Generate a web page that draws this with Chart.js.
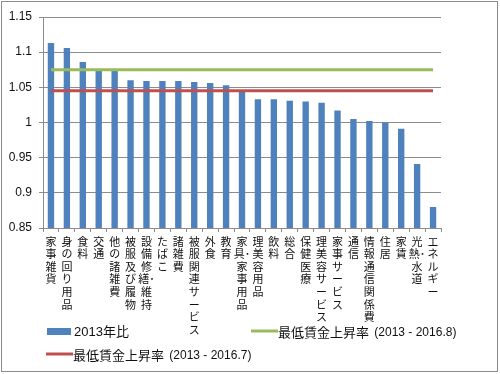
<!DOCTYPE html>
<html>
<head>
<meta charset="utf-8">
<script src="https://cdn.jsdelivr.net/npm/chart.js@4/dist/chart.umd.min.js"></script>
<style>
  html, body { margin: 0; padding: 0; background: #fff; }
  #wrap { width: 500px; height: 374px; position: relative; }
</style>
</head>
<body>
<div id="wrap"><canvas id="c" width="500" height="374"></canvas></div>
<script>
// ---- data ----
const categories = ['家事雑貨', '身の回り用品', '食料', '交通', '他の諸雑費', '被服及び履物', '設備修繕･維持', 'たばこ', '諸雑費', '被服関連サービス', '外食', '教育', '家具･家事用品', '理美容用品', '飲料', '総合', '保健医療', '理美容サービス', '家事サービス', '通信', '情報通信関係費', '住居', '家賃', '光熱･水道', 'エネルギー'];
const ratio2013 = [1.113, 1.106, 1.086, 1.074, 1.074, 1.060, 1.059, 1.059, 1.059, 1.0575, 1.056, 1.053, 1.044, 1.033, 1.033, 1.031, 1.030, 1.028, 1.017, 1.005, 1.002, 1.000, 0.991, 0.941, 0.880];
const minWageRise_2016_8 = 1.075;
const minWageRise_2016_7 = 1.045;
const seriesLabels = ['2013年比', '最低賃金上昇率 (2013 - 2016.8)', '最低賃金上昇率 (2013 - 2016.7)'];
const yTickLabels = ['0.85', '0.9', '0.95', '1', '1.05', '1.1', '1.15'];

// vertical (stacked) label lines: one character per line, half-width dot stays with previous char
function stackChars(s) {
  const out = [];
  for (const ch of s) {
    if (ch === '･' && out.length) out[out.length - 1] += ch;
    else out.push(ch);
  }
  return out;
}

const first = categories[0], last = categories[categories.length - 1];

const borderPlugin = {
  id: 'frame',
  beforeDraw(chart) {
    const ctx = chart.ctx;
    ctx.save();
    ctx.fillStyle = '#fff';
    ctx.fillRect(0, 0, chart.width, chart.height);
    ctx.strokeStyle = '#8c8c8c';
    ctx.lineWidth = 1;
    ctx.strokeRect(1.5, 1.5, 496, 370);
    ctx.restore();
  }
};

const legendPlugin = {
  id: 'gridLegend',
  afterDraw(chart) {
    const ctx = chart.ctx;
    const ds = chart.data.datasets;
    const slots = [[47, 331], [251, 331], [46, 354]];
    ctx.save();
    ctx.textBaseline = 'middle';
    ds.forEach((d, i) => {
      const [x, y] = slots[i];
      if (d.type === 'line') {
        ctx.strokeStyle = d.borderColor;
        ctx.lineWidth = 3;
        ctx.beginPath();
        ctx.moveTo(x, y);
        ctx.lineTo(x + 27, y);
        ctx.stroke();
      } else {
        ctx.fillStyle = d.backgroundColor;
        ctx.fillRect(x, y - 3, 24, 7);
      }
      ctx.fillStyle = '#111';
      const sp = d.label.indexOf(' ');
      let tx = x + 27;
      if (sp > 0) {
        const jp = d.label.slice(0, sp);
        const rest = d.label.slice(sp);
        ctx.font = '13px "Noto Sans CJK JP"';
        ctx.fillText(jp, tx, y + 1);
        tx += ctx.measureText(jp).width;
        ctx.font = '12px "Liberation Sans"';
        ctx.fillText(rest, tx + 2, y + 2);
      } else {
        ctx.font = '13px "Liberation Sans", "Noto Sans CJK JP"';
        ctx.fillText(d.label, tx, y + 1);
      }
    });
    ctx.restore();
  }
};

new Chart(document.getElementById('c'), {
  data: {
    labels: categories,
    datasets: [
      {
        type: 'bar',
        label: seriesLabels[0],
        data: ratio2013,
        backgroundColor: '#4F81BD',
        borderWidth: 0,
        barPercentage: 0.4,
        categoryPercentage: 1.0,
        order: 2
      },
      {
        type: 'line',
        label: seriesLabels[1],
        data: [{ x: first, y: minWageRise_2016_8 }, { x: last, y: minWageRise_2016_8 }],
        borderColor: '#9BBB59',
        backgroundColor: '#9BBB59',
        borderWidth: 3,
        pointRadius: 0,
        fill: false,
        order: 0
      },
      {
        type: 'line',
        label: seriesLabels[2],
        data: [{ x: first, y: minWageRise_2016_7 }, { x: last, y: minWageRise_2016_7 }],
        borderColor: '#C0504D',
        backgroundColor: '#C0504D',
        borderWidth: 3,
        pointRadius: 0,
        fill: false,
        order: 1
      }
    ]
  },
  options: {
    responsive: false,
    animation: false,
    devicePixelRatio: 1,
    layout: { padding: { left: 0, right: 59, top: 17, bottom: 0 } },
    plugins: {
      legend: { display: false },
      tooltip: { enabled: false }
    },
    scales: {
      x: {
        type: 'category',
        offset: true,
        grid: { display: true, drawOnChartArea: false, drawTicks: true, tickLength: 4, color: '#8c8c8c', offset: true },
        border: { display: true, color: '#8c8c8c' },
        ticks: {
          autoSkip: false,
          maxRotation: 0,
          minRotation: 0,
          padding: 3,
          color: '#111',
          font: { family: '"Noto Sans CJK JP"', size: 11, lineHeight: 1.15 },
          callback: function (v, i) { return stackChars(categories[i]); }
        },
        afterFit(scale) { scale.height = 146; }
      },
      y: {
        min: 0.85,
        max: 1.15,
        grid: { color: '#8c8c8c', drawTicks: true, tickLength: 4 },
        border: { display: true, color: '#8c8c8c' },
        ticks: {
          stepSize: 0.05,
          padding: 7,
          color: '#111',
          font: { family: '"Liberation Sans"', size: 12 },
          callback: function (v, i) { return yTickLabels[i]; }
        },
        afterFit(scale) { scale.width = 43; }
      }
    }
  },
  plugins: [borderPlugin, legendPlugin]
});
</script>
</body>
</html>
